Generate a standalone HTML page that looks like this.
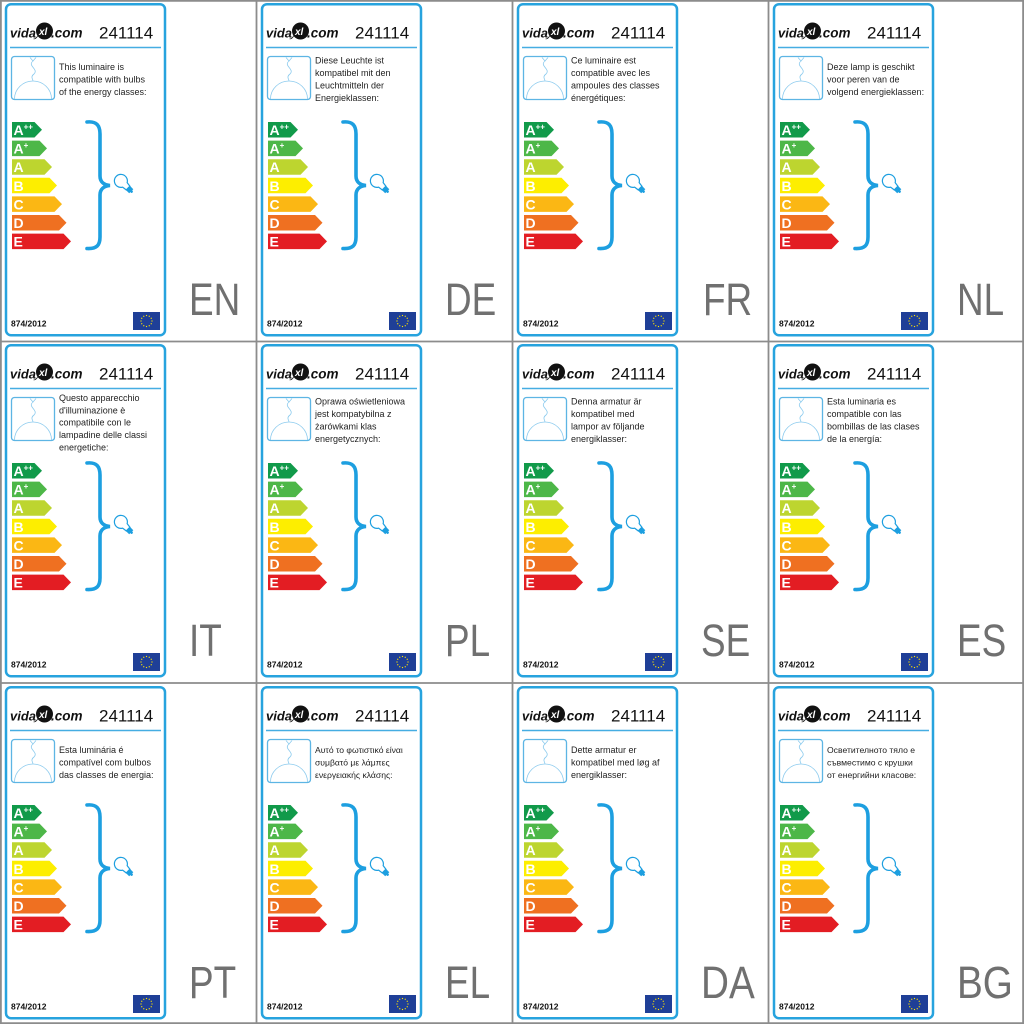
<!DOCTYPE html>
<html><head><meta charset="utf-8">
<style>
html,body{margin:0;padding:0;background:#fff;}
svg{display:block;}
text{font-family:"Liberation Sans","DejaVu Sans",sans-serif;}
</style></head>
<body>
<svg width="1024" height="1024" viewBox="0 0 1024 1024" xmlns="http://www.w3.org/2000/svg">
<defs>
<g id="base">
<rect x="6" y="4.2" width="159" height="331" rx="5" fill="#fff" stroke="#27a3de" stroke-width="2.5"/>
<line x1="10" y1="47.5" x2="161" y2="47.5" stroke="#45ade2" stroke-width="1.5"/>
<circle cx="44.5" cy="31" r="8.5" fill="#111"/>
<path d="M38,36 Q36,40 33,39 Q37,38 38,34 Z" fill="#111"/>
<rect x="11.5" y="56.5" width="43" height="43" rx="3" fill="none" stroke="#5db5e4" stroke-width="1.3"/>
<path d="M30,57.5 L33,61 L36,57.5" stroke="#8ccbee" fill="none" stroke-width="0.8"/>
<path d="M33,61 C27,66 39,69 34,74 C30,77 33,79 33,81" stroke="#8ccbee" fill="none" stroke-width="0.8"/>
<path d="M14.5,99 A18.5,18 0 0 1 51.5,99" stroke="#8ccbee" fill="none" stroke-width="0.8"/>
<polygon points="12,122 34.5,122 42,129.75 34.5,137.5 12,137.5" fill="#119a4a"/>
<polygon points="12,140.6 39.5,140.6 47,148.35 39.5,156.1 12,156.1" fill="#4db748"/>
<polygon points="12,159.2 44.5,159.2 52,166.95 44.5,174.7 12,174.7" fill="#bdd52f"/>
<polygon points="12,177.8 49.5,177.8 57,185.55 49.5,193.3 12,193.3" fill="#fdee00"/>
<polygon points="12,196.4 54.5,196.4 62,204.15 54.5,211.9 12,211.9" fill="#fbb714"/>
<polygon points="12,215 59,215 66.5,222.75 59,230.5 12,230.5" fill="#ef7021"/>
<polygon points="12,233.6 63.5,233.6 71,241.35 63.5,249.1 12,249.1" fill="#e31d23"/>
<path d="M87,122 C97,121 100,126 100,134 L100,176 C100,182 104,185 110,185.5 C104,186 100,189 100,195 L100,237 C100,245 97,249 87,248.5" stroke="#1d9fe0" stroke-width="3.6" fill="none" stroke-linecap="round"/>
<g transform="translate(121,181) rotate(-45)">
<path d="M-3.2,5.5 A6.5,6.5 0 1 1 3.2,5.5 L2.6,10 L-2.6,10 Z" fill="#fff" stroke="#1d9fe0" stroke-width="1.2"/>
<rect x="-2.9" y="10" width="5.8" height="4.5" fill="#1d9fe0"/>
<circle cx="0" cy="15" r="1.3" fill="#1d9fe0"/>
</g>
<rect x="133" y="312" width="27" height="18" fill="#1f3f97"/>
<g fill="#ffe500">
<circle cx="146.5" cy="315.5" r="0.65"/><circle cx="149.25" cy="316.24" r="0.65"/><circle cx="151.26" cy="318.25" r="0.65"/><circle cx="152" cy="321" r="0.65"/><circle cx="151.26" cy="323.75" r="0.65"/><circle cx="149.25" cy="325.76" r="0.65"/><circle cx="146.5" cy="326.5" r="0.65"/><circle cx="143.75" cy="325.76" r="0.65"/><circle cx="141.74" cy="323.75" r="0.65"/><circle cx="141" cy="321" r="0.65"/><circle cx="141.74" cy="318.25" r="0.65"/><circle cx="143.75" cy="316.24" r="0.65"/>
</g>
</g>
</defs>

<!-- Row 1 -->
<g transform="translate(0,0)">
<use href="#base"/>
<text x="10" y="37.5" font-size="13" font-weight="bold" font-style="italic" fill="#111">vida</text>
<text x="39" y="35" font-size="10" font-weight="bold" font-style="italic" fill="#fff">xl</text>
<text x="51" y="37.5" font-size="13.5" font-weight="bold" font-style="italic" fill="#111">.com</text>
<text x="99" y="38.5" font-size="17" fill="#111">241114</text>
<text font-size="9" fill="#222"><tspan x="59" y="70">This luminaire is</tspan><tspan x="59" y="82.5">compatible with bulbs</tspan><tspan x="59" y="95">of the energy classes:</tspan></text>
<text font-size="14" font-weight="bold" fill="#fff"><tspan x="13.5" y="135">A</tspan><tspan font-size="8" dy="-5.5">++</tspan><tspan x="13.5" y="153.6">A</tspan><tspan font-size="8" dy="-5.5">+</tspan><tspan x="13.5" y="172.2">A</tspan><tspan x="13.5" y="190.8">B</tspan><tspan x="13.5" y="209.4">C</tspan><tspan x="13.5" y="228">D</tspan><tspan x="13.5" y="246.6">E</tspan></text>
<text x="11" y="326.5" font-size="8.5" font-weight="bold" fill="#111">874/2012</text>
<text transform="translate(189,315) scale(0.82,1)" font-size="45" fill="#707070">EN</text>
</g>

<g transform="translate(256,0)">
<use href="#base"/>
<text x="10" y="37.5" font-size="13" font-weight="bold" font-style="italic" fill="#111">vida</text>
<text x="39" y="35" font-size="10" font-weight="bold" font-style="italic" fill="#fff">xl</text>
<text x="51" y="37.5" font-size="13.5" font-weight="bold" font-style="italic" fill="#111">.com</text>
<text x="99" y="38.5" font-size="17" fill="#111">241114</text>
<text font-size="9" fill="#222"><tspan x="59" y="63.5">Diese Leuchte ist</tspan><tspan x="59" y="76">kompatibel mit den</tspan><tspan x="59" y="88.5">Leuchtmitteln der</tspan><tspan x="59" y="101">Energieklassen:</tspan></text>
<text font-size="14" font-weight="bold" fill="#fff"><tspan x="13.5" y="135">A</tspan><tspan font-size="8" dy="-5.5">++</tspan><tspan x="13.5" y="153.6">A</tspan><tspan font-size="8" dy="-5.5">+</tspan><tspan x="13.5" y="172.2">A</tspan><tspan x="13.5" y="190.8">B</tspan><tspan x="13.5" y="209.4">C</tspan><tspan x="13.5" y="228">D</tspan><tspan x="13.5" y="246.6">E</tspan></text>
<text x="11" y="326.5" font-size="8.5" font-weight="bold" fill="#111">874/2012</text>
<text transform="translate(189,315) scale(0.82,1)" font-size="45" fill="#707070">DE</text>
</g>

<g transform="translate(512,0)">
<use href="#base"/>
<text x="10" y="37.5" font-size="13" font-weight="bold" font-style="italic" fill="#111">vida</text>
<text x="39" y="35" font-size="10" font-weight="bold" font-style="italic" fill="#fff">xl</text>
<text x="51" y="37.5" font-size="13.5" font-weight="bold" font-style="italic" fill="#111">.com</text>
<text x="99" y="38.5" font-size="17" fill="#111">241114</text>
<text font-size="9" fill="#222"><tspan x="59" y="63.5">Ce luminaire est</tspan><tspan x="59" y="76">compatible avec les</tspan><tspan x="59" y="88.5">ampoules des classes</tspan><tspan x="59" y="101">énergétiques:</tspan></text>
<text font-size="14" font-weight="bold" fill="#fff"><tspan x="13.5" y="135">A</tspan><tspan font-size="8" dy="-5.5">++</tspan><tspan x="13.5" y="153.6">A</tspan><tspan font-size="8" dy="-5.5">+</tspan><tspan x="13.5" y="172.2">A</tspan><tspan x="13.5" y="190.8">B</tspan><tspan x="13.5" y="209.4">C</tspan><tspan x="13.5" y="228">D</tspan><tspan x="13.5" y="246.6">E</tspan></text>
<text x="11" y="326.5" font-size="8.5" font-weight="bold" fill="#111">874/2012</text>
<text transform="translate(191,315) scale(0.82,1)" font-size="45" fill="#707070">FR</text>
</g>

<g transform="translate(768,0)">
<use href="#base"/>
<text x="10" y="37.5" font-size="13" font-weight="bold" font-style="italic" fill="#111">vida</text>
<text x="39" y="35" font-size="10" font-weight="bold" font-style="italic" fill="#fff">xl</text>
<text x="51" y="37.5" font-size="13.5" font-weight="bold" font-style="italic" fill="#111">.com</text>
<text x="99" y="38.5" font-size="17" fill="#111">241114</text>
<text font-size="9" fill="#222"><tspan x="59" y="70">Deze lamp is geschikt</tspan><tspan x="59" y="82.5">voor peren van de</tspan><tspan x="59" y="95">volgend energieklassen:</tspan></text>
<text font-size="14" font-weight="bold" fill="#fff"><tspan x="13.5" y="135">A</tspan><tspan font-size="8" dy="-5.5">++</tspan><tspan x="13.5" y="153.6">A</tspan><tspan font-size="8" dy="-5.5">+</tspan><tspan x="13.5" y="172.2">A</tspan><tspan x="13.5" y="190.8">B</tspan><tspan x="13.5" y="209.4">C</tspan><tspan x="13.5" y="228">D</tspan><tspan x="13.5" y="246.6">E</tspan></text>
<text x="11" y="326.5" font-size="8.5" font-weight="bold" fill="#111">874/2012</text>
<text transform="translate(189,315) scale(0.82,1)" font-size="45" fill="#707070">NL</text>
</g>

<!-- Row 2 -->
<g transform="translate(0,341)">
<use href="#base"/>
<text x="10" y="37.5" font-size="13" font-weight="bold" font-style="italic" fill="#111">vida</text>
<text x="39" y="35" font-size="10" font-weight="bold" font-style="italic" fill="#fff">xl</text>
<text x="51" y="37.5" font-size="13.5" font-weight="bold" font-style="italic" fill="#111">.com</text>
<text x="99" y="38.5" font-size="17" fill="#111">241114</text>
<text font-size="9" fill="#222"><tspan x="59" y="60">Questo apparecchio</tspan><tspan x="59" y="72.5">d'illuminazione è</tspan><tspan x="59" y="84.5">compatibile con le</tspan><tspan x="59" y="97">lampadine delle classi</tspan><tspan x="59" y="109.5">energetiche:</tspan></text>
<text font-size="14" font-weight="bold" fill="#fff"><tspan x="13.5" y="135">A</tspan><tspan font-size="8" dy="-5.5">++</tspan><tspan x="13.5" y="153.6">A</tspan><tspan font-size="8" dy="-5.5">+</tspan><tspan x="13.5" y="172.2">A</tspan><tspan x="13.5" y="190.8">B</tspan><tspan x="13.5" y="209.4">C</tspan><tspan x="13.5" y="228">D</tspan><tspan x="13.5" y="246.6">E</tspan></text>
<text x="11" y="326.5" font-size="8.5" font-weight="bold" fill="#111">874/2012</text>
<text transform="translate(189,315) scale(0.82,1)" font-size="45" fill="#707070">IT</text>
</g>

<g transform="translate(256,341)">
<use href="#base"/>
<text x="10" y="37.5" font-size="13" font-weight="bold" font-style="italic" fill="#111">vida</text>
<text x="39" y="35" font-size="10" font-weight="bold" font-style="italic" fill="#fff">xl</text>
<text x="51" y="37.5" font-size="13.5" font-weight="bold" font-style="italic" fill="#111">.com</text>
<text x="99" y="38.5" font-size="17" fill="#111">241114</text>
<text font-size="9" fill="#222"><tspan x="59" y="63.5">Oprawa oświetleniowa</tspan><tspan x="59" y="76">jest kompatybilna z</tspan><tspan x="59" y="88.5">żarówkami klas</tspan><tspan x="59" y="101">energetycznych:</tspan></text>
<text font-size="14" font-weight="bold" fill="#fff"><tspan x="13.5" y="135">A</tspan><tspan font-size="8" dy="-5.5">++</tspan><tspan x="13.5" y="153.6">A</tspan><tspan font-size="8" dy="-5.5">+</tspan><tspan x="13.5" y="172.2">A</tspan><tspan x="13.5" y="190.8">B</tspan><tspan x="13.5" y="209.4">C</tspan><tspan x="13.5" y="228">D</tspan><tspan x="13.5" y="246.6">E</tspan></text>
<text x="11" y="326.5" font-size="8.5" font-weight="bold" fill="#111">874/2012</text>
<text transform="translate(189,315) scale(0.82,1)" font-size="45" fill="#707070">PL</text>
</g>

<g transform="translate(512,341)">
<use href="#base"/>
<text x="10" y="37.5" font-size="13" font-weight="bold" font-style="italic" fill="#111">vida</text>
<text x="39" y="35" font-size="10" font-weight="bold" font-style="italic" fill="#fff">xl</text>
<text x="51" y="37.5" font-size="13.5" font-weight="bold" font-style="italic" fill="#111">.com</text>
<text x="99" y="38.5" font-size="17" fill="#111">241114</text>
<text font-size="9" fill="#222"><tspan x="59" y="63.5">Denna armatur är</tspan><tspan x="59" y="76">kompatibel med</tspan><tspan x="59" y="88.5">lampor av följande</tspan><tspan x="59" y="101">energiklasser:</tspan></text>
<text font-size="14" font-weight="bold" fill="#fff"><tspan x="13.5" y="135">A</tspan><tspan font-size="8" dy="-5.5">++</tspan><tspan x="13.5" y="153.6">A</tspan><tspan font-size="8" dy="-5.5">+</tspan><tspan x="13.5" y="172.2">A</tspan><tspan x="13.5" y="190.8">B</tspan><tspan x="13.5" y="209.4">C</tspan><tspan x="13.5" y="228">D</tspan><tspan x="13.5" y="246.6">E</tspan></text>
<text x="11" y="326.5" font-size="8.5" font-weight="bold" fill="#111">874/2012</text>
<text transform="translate(189,315) scale(0.82,1)" font-size="45" fill="#707070">SE</text>
</g>

<g transform="translate(768,341)">
<use href="#base"/>
<text x="10" y="37.5" font-size="13" font-weight="bold" font-style="italic" fill="#111">vida</text>
<text x="39" y="35" font-size="10" font-weight="bold" font-style="italic" fill="#fff">xl</text>
<text x="51" y="37.5" font-size="13.5" font-weight="bold" font-style="italic" fill="#111">.com</text>
<text x="99" y="38.5" font-size="17" fill="#111">241114</text>
<text font-size="9" fill="#222"><tspan x="59" y="63.5">Esta luminaria es</tspan><tspan x="59" y="76">compatible con las</tspan><tspan x="59" y="88.5">bombillas de las clases</tspan><tspan x="59" y="101">de la energía:</tspan></text>
<text font-size="14" font-weight="bold" fill="#fff"><tspan x="13.5" y="135">A</tspan><tspan font-size="8" dy="-5.5">++</tspan><tspan x="13.5" y="153.6">A</tspan><tspan font-size="8" dy="-5.5">+</tspan><tspan x="13.5" y="172.2">A</tspan><tspan x="13.5" y="190.8">B</tspan><tspan x="13.5" y="209.4">C</tspan><tspan x="13.5" y="228">D</tspan><tspan x="13.5" y="246.6">E</tspan></text>
<text x="11" y="326.5" font-size="8.5" font-weight="bold" fill="#111">874/2012</text>
<text transform="translate(189,315) scale(0.82,1)" font-size="45" fill="#707070">ES</text>
</g>

<!-- Row 3 -->
<g transform="translate(0,683)">
<use href="#base"/>
<text x="10" y="37.5" font-size="13" font-weight="bold" font-style="italic" fill="#111">vida</text>
<text x="39" y="35" font-size="10" font-weight="bold" font-style="italic" fill="#fff">xl</text>
<text x="51" y="37.5" font-size="13.5" font-weight="bold" font-style="italic" fill="#111">.com</text>
<text x="99" y="38.5" font-size="17" fill="#111">241114</text>
<text font-size="9" fill="#222"><tspan x="59" y="70">Esta luminária é</tspan><tspan x="59" y="82.5">compatível com bulbos</tspan><tspan x="59" y="95">das classes de energia:</tspan></text>
<text font-size="14" font-weight="bold" fill="#fff"><tspan x="13.5" y="135">A</tspan><tspan font-size="8" dy="-5.5">++</tspan><tspan x="13.5" y="153.6">A</tspan><tspan font-size="8" dy="-5.5">+</tspan><tspan x="13.5" y="172.2">A</tspan><tspan x="13.5" y="190.8">B</tspan><tspan x="13.5" y="209.4">C</tspan><tspan x="13.5" y="228">D</tspan><tspan x="13.5" y="246.6">E</tspan></text>
<text x="11" y="326.5" font-size="8.5" font-weight="bold" fill="#111">874/2012</text>
<text transform="translate(189,315) scale(0.82,1)" font-size="45" fill="#707070">PT</text>
</g>

<g transform="translate(256,683)">
<use href="#base"/>
<text x="10" y="37.5" font-size="13" font-weight="bold" font-style="italic" fill="#111">vida</text>
<text x="39" y="35" font-size="10" font-weight="bold" font-style="italic" fill="#fff">xl</text>
<text x="51" y="37.5" font-size="13.5" font-weight="bold" font-style="italic" fill="#111">.com</text>
<text x="99" y="38.5" font-size="17" fill="#111">241114</text>
<text font-size="8.6" fill="#222"><tspan x="59" y="70">Αυτό το φωτιστικό είναι</tspan><tspan x="59" y="82.5">συμβατό με λάμπες</tspan><tspan x="59" y="95">ενεργειακής κλάσης:</tspan></text>
<text font-size="14" font-weight="bold" fill="#fff"><tspan x="13.5" y="135">A</tspan><tspan font-size="8" dy="-5.5">++</tspan><tspan x="13.5" y="153.6">A</tspan><tspan font-size="8" dy="-5.5">+</tspan><tspan x="13.5" y="172.2">A</tspan><tspan x="13.5" y="190.8">B</tspan><tspan x="13.5" y="209.4">C</tspan><tspan x="13.5" y="228">D</tspan><tspan x="13.5" y="246.6">E</tspan></text>
<text x="11" y="326.5" font-size="8.5" font-weight="bold" fill="#111">874/2012</text>
<text transform="translate(189,315) scale(0.82,1)" font-size="45" fill="#707070">EL</text>
</g>

<g transform="translate(512,683)">
<use href="#base"/>
<text x="10" y="37.5" font-size="13" font-weight="bold" font-style="italic" fill="#111">vida</text>
<text x="39" y="35" font-size="10" font-weight="bold" font-style="italic" fill="#fff">xl</text>
<text x="51" y="37.5" font-size="13.5" font-weight="bold" font-style="italic" fill="#111">.com</text>
<text x="99" y="38.5" font-size="17" fill="#111">241114</text>
<text font-size="9" fill="#222"><tspan x="59" y="70">Dette armatur er</tspan><tspan x="59" y="82.5">kompatibel med løg af</tspan><tspan x="59" y="95">energiklasser:</tspan></text>
<text font-size="14" font-weight="bold" fill="#fff"><tspan x="13.5" y="135">A</tspan><tspan font-size="8" dy="-5.5">++</tspan><tspan x="13.5" y="153.6">A</tspan><tspan font-size="8" dy="-5.5">+</tspan><tspan x="13.5" y="172.2">A</tspan><tspan x="13.5" y="190.8">B</tspan><tspan x="13.5" y="209.4">C</tspan><tspan x="13.5" y="228">D</tspan><tspan x="13.5" y="246.6">E</tspan></text>
<text x="11" y="326.5" font-size="8.5" font-weight="bold" fill="#111">874/2012</text>
<text transform="translate(189,315) scale(0.86,1)" font-size="45" fill="#707070">DA</text>
</g>

<g transform="translate(768,683)">
<use href="#base"/>
<text x="10" y="37.5" font-size="13" font-weight="bold" font-style="italic" fill="#111">vida</text>
<text x="39" y="35" font-size="10" font-weight="bold" font-style="italic" fill="#fff">xl</text>
<text x="51" y="37.5" font-size="13.5" font-weight="bold" font-style="italic" fill="#111">.com</text>
<text x="99" y="38.5" font-size="17" fill="#111">241114</text>
<text font-size="8.6" fill="#222"><tspan x="59" y="70">Осветителното тяло е</tspan><tspan x="59" y="82.5">съвместимо с крушки</tspan><tspan x="59" y="95">от енергийни класове:</tspan></text>
<text font-size="14" font-weight="bold" fill="#fff"><tspan x="13.5" y="135">A</tspan><tspan font-size="8" dy="-5.5">++</tspan><tspan x="13.5" y="153.6">A</tspan><tspan font-size="8" dy="-5.5">+</tspan><tspan x="13.5" y="172.2">A</tspan><tspan x="13.5" y="190.8">B</tspan><tspan x="13.5" y="209.4">C</tspan><tspan x="13.5" y="228">D</tspan><tspan x="13.5" y="246.6">E</tspan></text>
<text x="11" y="326.5" font-size="8.5" font-weight="bold" fill="#111">874/2012</text>
<text transform="translate(189,315) scale(0.86,1)" font-size="45" fill="#707070">BG</text>
</g>

<!-- Grid lines -->
<g stroke="#8c8c8c" stroke-width="1.8" fill="none">
<line x1="0.9" y1="0" x2="0.9" y2="1024"/>
<line x1="256.5" y1="0" x2="256.5" y2="1024"/>
<line x1="512.5" y1="0" x2="512.5" y2="1024"/>
<line x1="768.5" y1="0" x2="768.5" y2="1024"/>
<line x1="1023.1" y1="0" x2="1023.1" y2="1024"/>
<line x1="0" y1="0.9" x2="1024" y2="0.9"/>
<line x1="0" y1="341.5" x2="1024" y2="341.5"/>
<line x1="0" y1="683" x2="1024" y2="683"/>
<line x1="0" y1="1023.1" x2="1024" y2="1023.1"/>
</g>
</svg>
</body></html>
